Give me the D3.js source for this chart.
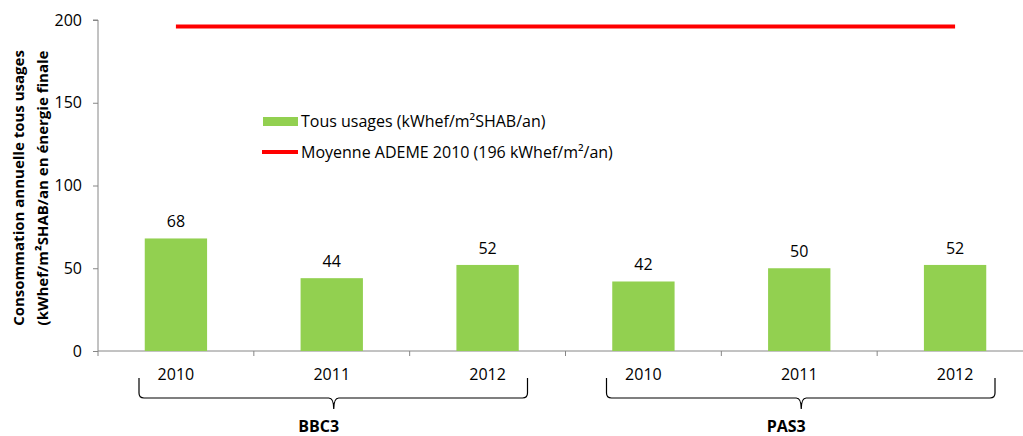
<!DOCTYPE html>
<html>
<head>
<meta charset="utf-8">
<script src="https://cdn.jsdelivr.net/npm/d3@7"></script>
<style>
  html, body { margin: 0; padding: 0; background: #fff; }
  svg { display: block; font-family: "Open Sans", sans-serif; }
</style>
</head>
<body>
<svg id="chart" width="1023" height="436"></svg>
<script>
// Categories: years within each building group
const groups = ["BBC3", "PAS3"];
const years = ["2010", "2011", "2012"];
const categories = [
  { group: "BBC3", year: "2010" }, { group: "BBC3", year: "2011" }, { group: "BBC3", year: "2012" },
  { group: "PAS3", year: "2010" }, { group: "PAS3", year: "2011" }, { group: "PAS3", year: "2012" }
];
// Annual consumption, all uses (kWhef/m²SHAB/an)
const consumption = [68, 44, 52, 42, 50, 52];
// ADEME 2010 average reference
const ademeAverage = [196, 196, 196, 196, 196, 196];
const yTicks = [0, 50, 100, 150, 200];
const legendLabels = ["Tous usages (kWhef/m²SHAB/an)", "Moyenne ADEME 2010 (196 kWhef/m²/an)"];
const yTitle = ["Consommation annuelle tous usages", "(kWhef/m²SHAB/an en énergie finale"];

const svg = d3.select("#chart");
const green = "#92D050", red = "#FF0000", axisGrey = "#868686";
const fs = 16;

const x = d3.scaleBand()
  .domain(categories.map((d, i) => i))
  .range([98, 1033])
  .padding(0);
const y = d3.scaleLinear().domain([0, 200]).range([351, 20]);
const barW = x.bandwidth() * 0.4;

// Y axis
const yAxis = d3.axisLeft(y).tickValues(yTicks).tickSize(5).tickPadding(11);
const gy = svg.append("g").attr("transform", "translate(98,0)").call(yAxis);
gy.select(".domain").attr("stroke", axisGrey).attr("d", `M-5,${y(200)}H0V${y(0)}`);
gy.selectAll(".tick line").attr("stroke", axisGrey);
gy.selectAll(".tick text").attr("font-size", fs).attr("fill", "#000")
  .attr("font-family", "Open Sans, sans-serif");

// X axis line and category boundary ticks
const baseY = y(0);
svg.append("line").attr("x1", 98).attr("x2", 1023).attr("y1", baseY).attr("y2", baseY)
  .attr("stroke", axisGrey).attr("stroke-width", 1);
svg.append("g").selectAll("line").data(categories.map((d, i) => i)).join("line")
  .attr("x1", i => x(i)).attr("x2", i => x(i))
  .attr("y1", baseY).attr("y2", baseY + 5)
  .attr("stroke", axisGrey);

// Bars
svg.append("g").selectAll("rect").data(consumption).join("rect")
  .attr("x", (d, i) => x(i) + (x.bandwidth() - barW) / 2)
  .attr("y", d => y(d))
  .attr("width", barW)
  .attr("height", d => y(0) - y(d))
  .attr("fill", green);

// Value labels
svg.append("g").selectAll("text").data(consumption).join("text")
  .attr("x", (d, i) => x(i) + x.bandwidth() / 2)
  .attr("y", d => y(d) - 11)
  .attr("text-anchor", "middle")
  .attr("font-size", fs)
  .text(d => d);

// ADEME average line
const line = d3.line()
  .x((d, i) => x(i) + x.bandwidth() / 2)
  .y(d => y(d));
svg.append("path").datum(ademeAverage)
  .attr("d", line)
  .attr("fill", "none")
  .attr("stroke", red)
  .attr("stroke-width", 4);

// Year labels
svg.append("g").selectAll("text").data(categories).join("text")
  .attr("x", (d, i) => x(i) + x.bandwidth() / 2)
  .attr("y", 380)
  .attr("text-anchor", "middle")
  .attr("font-size", fs)
  .text(d => d.year);

// Group braces and labels
groups.forEach(g => {
  const idx = categories.map((d, i) => d.group === g ? i : -1).filter(i => i >= 0);
  const left = x(idx[0]) + 41;
  const right = x(idx[idx.length - 1]) + x.bandwidth() - 38;
  const mid = (x(idx[0]) + x(idx[idx.length - 1]) + x.bandwidth()) / 2 + 2;
  const top = 378, h = 398, tip = 409, r = 5;
  const p = `M${left},${top} V${h - r} Q${left},${h} ${left + r},${h} H${mid - r} Q${mid},${h} ${mid},${tip}` +
            ` M${right},${top} V${h - r} Q${right},${h} ${right - r},${h} H${mid + r} Q${mid},${h} ${mid},${tip}`;
  svg.append("path").attr("d", p).attr("fill", "none").attr("stroke", "#000").attr("stroke-width", 1.2);
  svg.append("text")
    .attr("x", mid - 15)
    .attr("y", 432)
    .attr("text-anchor", "middle")
    .attr("font-size", fs)
    .attr("font-weight", "bold")
    .text(g);
});

// Y axis title
const title = svg.append("text")
  .attr("transform", "translate(0,188) rotate(-90)")
  .attr("text-anchor", "middle")
  .attr("font-size", 15)
  .attr("font-weight", "bold");
title.selectAll("tspan").data(yTitle).join("tspan")
  .attr("x", 0)
  .attr("y", (d, i) => 24 + i * 24)
  .text(d => d);

// Legend
const legend = svg.append("g");
legend.append("rect").attr("x", 263).attr("y", 117).attr("width", 35).attr("height", 9).attr("fill", green);
legend.append("line").attr("x1", 262).attr("x2", 298).attr("y1", 152).attr("y2", 152)
  .attr("stroke", red).attr("stroke-width", 4);
legend.selectAll("text").data(legendLabels).join("text")
  .attr("x", 301)
  .attr("y", (d, i) => 121 + i * 31)
  .attr("dy", "0.35em")
  .attr("font-size", fs)
  .text(d => d);
</script>
</body>
</html>
